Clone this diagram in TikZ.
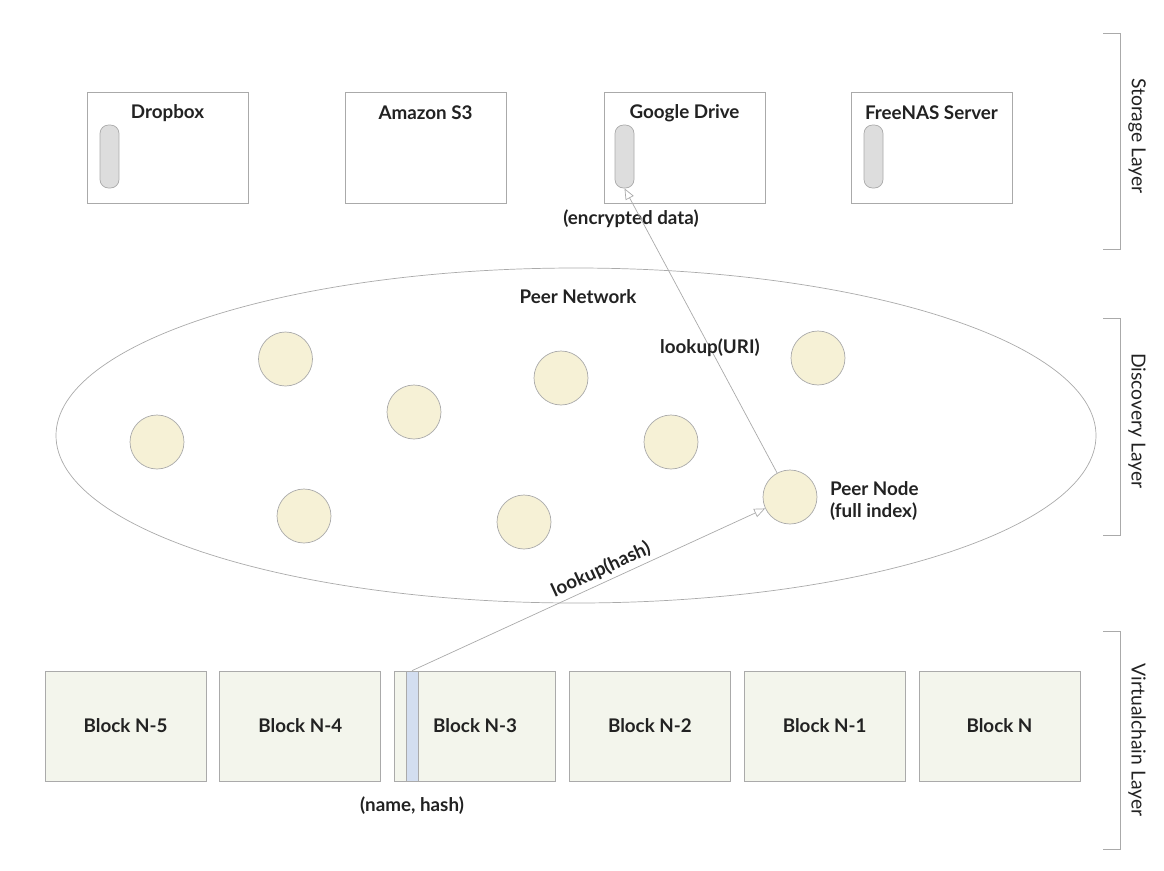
\documentclass[tikz,border=0pt]{standalone}
\usepackage{fontspec}
\setmainfont{Lato}[BoldFont={Lato Bold}]
\usepackage{tikz}
\usetikzlibrary{arrows.meta,positioning}

\definecolor{edgegray}{HTML}{AAAAAA}
\definecolor{peerfill}{HTML}{F6F1D6}
\definecolor{blockfill}{HTML}{F3F5EC}
\definecolor{pillfill}{HTML}{DDDDDD}
\definecolor{stripfill}{HTML}{D3DEF0}
\definecolor{txt}{HTML}{222222}

\tikzset{
  store/.style={draw=edgegray, fill=white, minimum width=3.22cm, minimum height=2.22cm, inner sep=0pt},
  pill/.style={draw=edgegray, fill=pillfill, rounded corners=0.17cm, minimum width=0.38cm, minimum height=1.26cm, inner sep=0pt},
  peer/.style={circle, draw=edgegray, fill=peerfill, minimum size=1.08cm, inner sep=0pt},
  block/.style={draw=edgegray, fill=blockfill, minimum width=3.22cm, minimum height=2.2cm, inner sep=0pt},
  title/.style={text=txt, inner sep=1pt},
  layer/.style={font=\fontsize{11}{13}\selectfont, text=txt, rotate=-90, inner sep=1pt},
  look/.style={draw=edgegray, -{Triangle[open, length=2.2mm, width=1.8mm]}}
}

\begin{document}
\begin{tikzpicture}[x=0.02cm, y=-0.02cm, font=\bfseries\fontsize{10.7}{13}\selectfont, text=txt]
\useasboundingbox (0,0) rectangle (1164,870);

% storage layer
\node[store] (dropbox) at (167.5,147.5) {};
\node[store] (amazon) at (425.5,147.5) {};
\node[store] (gdrive) at (684.5,147.5) {};
\node[store] (freenas) at (931.5,147.5) {};
\node[title] at (167.5,113) {Dropbox};
\node[title] at (425.5,113) {Amazon S3};
\node[title] at (684.5,113) {Google Drive};
\node[title] at (931.5,113) {FreeNAS Server};
\node[pill] (dpill) at (109.5,156.5) {};
\node[pill] (gpill) at (624.5,156.5) {};
\node[pill] (fpill) at (873.5,156.5) {};
\node[title] (encr) at (631,219) {(encrypted data)};

% discovery layer
\draw[edgegray] (576,435.5) ellipse [x radius=520, y radius=167.5];
\node[title] (net) at (578,297) {Peer Network};
\node[peer] (p1) at (285.5,359) {};
\node[peer] (p2) at (157,442) {};
\node[peer] (p3) at (414,412) {};
\node[peer] (p4) at (561,378) {};
\node[peer] (p5) at (671,442) {};
\node[peer] (p6) at (818,358) {};
\node[peer] (p7) at (304,516) {};
\node[peer] (p8) at (524,522) {};
\node[peer] (pnode) at (790,497) {};
\node[title, align=left, anchor=west] (pnodet) at (828,501) {Peer Node\\(full index)};

% virtualchain layer
\foreach \i/\lab in {0/N-5,1/N-4,2/N-3,3/N-2,4/N-1,5/N}
  \node[block] (b\i) at (125.5+174.8*\i,726) {Block \lab};
\node[draw=edgegray, fill=stripfill, minimum width=0.24cm, minimum height=2.2cm, inner sep=0pt] (strip) at (412,726) {};
\node[title] at (412,806) {(name, hash)};

% lookups
\draw[look] (strip.north) -- node[title, pos=0.55, sloped, above=1pt] {lookup(hash)} (pnode);
\draw[look] (pnode) -- node[title, pos=0.44] {lookup(URI)} (gpill.south);

% layer brackets
\draw[edgegray] (1103,33) -- (1120,33) -- (1120,249) -- (1103,249);
\draw[edgegray] (1103,318) -- (1120,318) -- (1120,535) -- (1103,535);
\draw[edgegray] (1103,631) -- (1120,631) -- (1120,849) -- (1103,849);
\node[layer] at (1137,136) {Storage Layer};
\node[layer] at (1137,421) {Discovery Layer};
\node[layer] at (1137,740) {Virtualchain Layer};
\end{tikzpicture}
\end{document}
